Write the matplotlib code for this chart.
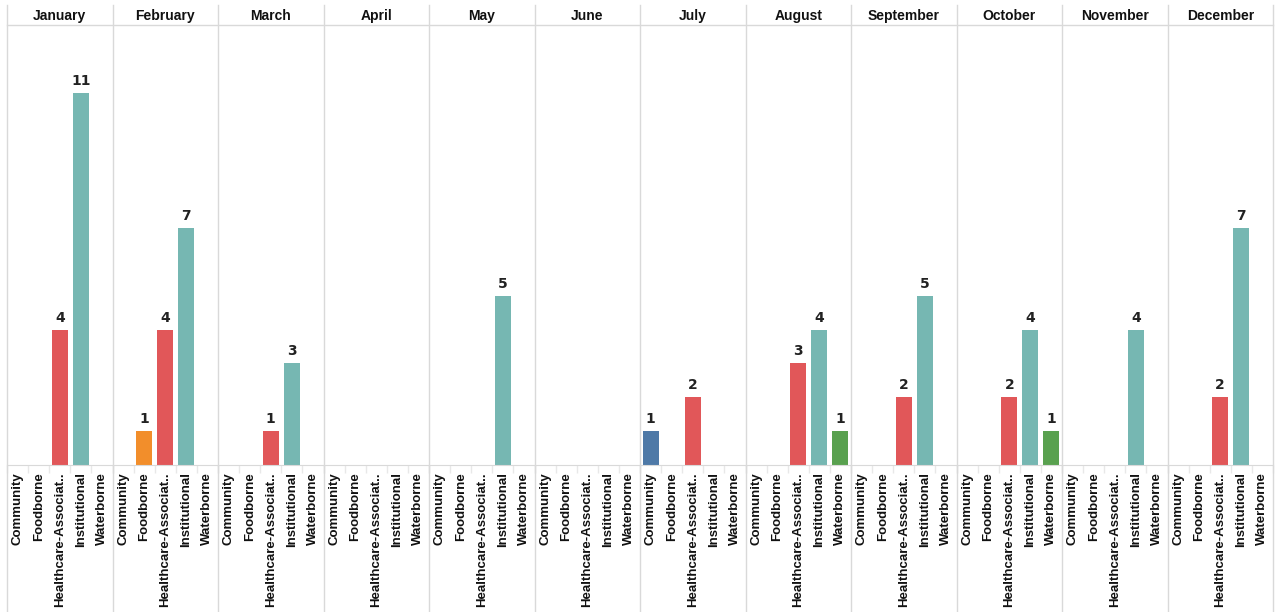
import matplotlib.pyplot as plt
import numpy as np

months = ['January', 'February', 'March', 'April', 'May', 'June', 'July',
          'August', 'September', 'October', 'November', 'December']
categories = ['Community', 'Foodborne', 'Healthcare-Associat..', 'Institutional', 'Waterborne']
colors = ['#4e79a7', '#f28e2b', '#e15759', '#76b7b2', '#59a14f']

# outbreak counts per month, one list per category (0 = no bar)
community     = [0, 0, 0, 0, 0, 0, 1, 0, 0, 0, 0, 0]
foodborne     = [0, 1, 0, 0, 0, 0, 0, 0, 0, 0, 0, 0]
healthcare    = [4, 4, 1, 0, 0, 0, 2, 3, 2, 2, 0, 2]
institutional = [11, 7, 3, 0, 5, 0, 0, 4, 5, 4, 4, 7]
waterborne    = [0, 0, 0, 0, 0, 0, 0, 1, 0, 1, 0, 0]

series = [community, foodborne, healthcare, institutional, waterborne]

W, H = 1275, 612
fig = plt.figure(figsize=(W / 100, H / 100), dpi=100)
left, right = 7 / W, 1273 / W
bottom, top = 1 - 465 / H, 1 - 25 / H
pw = (right - left) / 12
grid = '#d9d9d9'

x = np.arange(len(categories))
for m in range(12):
    ax = fig.add_axes([left + m * pw, bottom, pw, top - bottom])
    for c in range(len(categories)):
        v = series[c][m]
        if v > 0:
            ax.bar(x[c], v, width=0.76, color=colors[c])
            ax.text(x[c], v + 0.15, str(v), ha='center', va='bottom',
                    fontsize=10, fontweight='bold', color='#222222')
    ax.set_xlim(-0.5, len(categories) - 0.5)
    ax.set_ylim(0, 13)
    ax.set_yticks([])
    ax.set_xticks(x)
    ax.set_xticklabels(categories, rotation=90, fontsize=9.5, fontweight='bold',
                       family='Liberation Sans', color='#111111')
    ax.tick_params(axis='x', length=0, pad=5)
    ax.set_xticks(np.arange(len(categories) + 1) - 0.5, minor=True)
    ax.tick_params(axis='x', which='minor', length=6, color='#e8e8e8', width=1)
    for s in ['left', 'right', 'top']:
        ax.spines[s].set_visible(False)
    ax.spines['bottom'].set_color(grid)
    ax.text(0.5, 1 + 9 / (465 - 25), months[m], transform=ax.transAxes,
            ha='center', va='center', fontsize=10, fontweight='bold',
            family='Liberation Sans', color='#111111')

# panel separators and header line
for m in range(13):
    xf = left + m * pw
    fig.add_artist(plt.Line2D([xf, xf], [0, 1 - 5 / H], color=grid, lw=1))
fig.add_artist(plt.Line2D([left, right], [top, top], color=grid, lw=1))

fig.savefig('out.png', dpi=100, facecolor='white')
